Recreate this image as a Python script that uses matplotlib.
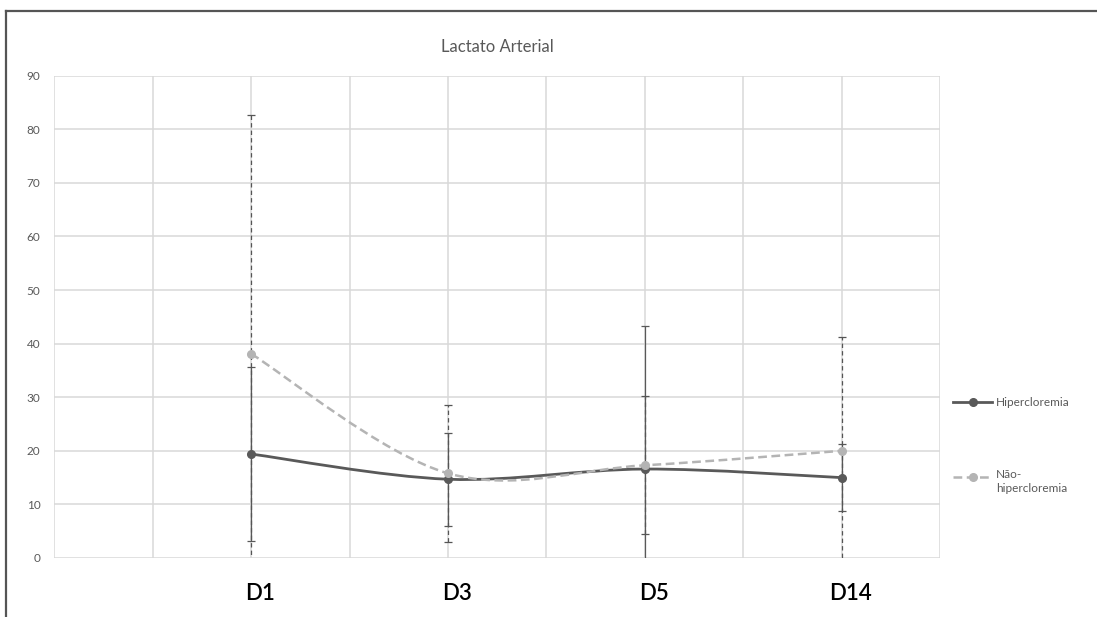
import numpy as np
import matplotlib
matplotlib.use("Agg")
import matplotlib.pyplot as plt
from matplotlib.path import Path
from matplotlib.patches import PathPatch
from matplotlib.lines import Line2D

plt.rcParams['font.family'] = ['Lato', 'DejaVu Sans']

# days of follow-up, placed on a 0..9 category grid
dias = ['D1', 'D3', 'D5', 'D14']
posicoes = [2, 4, 6, 8]

hiper_media = [19.4, 14.7, 16.6, 15.0]
hiper_dp = [16.3, 8.7, 26.6, 6.3]

nao_media = [38.1, 15.8, 17.3, 20.0]
nao_dp = [44.5, 12.8, 12.9, 21.3]

ESCURO = '#595959'
CLARO = '#b4b4b4'
GRADE = '#d9d9d9'


def curva_suave(xs, ys):
    # Bezier segments like the "smoothed line" option of a spreadsheet chart
    pts = np.column_stack([xs, ys]).astype(float)
    n = len(pts)
    verts = [pts[0]]
    codes = [Path.MOVETO]
    for i in range(n - 1):
        p_ant = pts[i - 1] if i > 0 else pts[i]
        p_prox = pts[i + 2] if i + 2 < n else pts[i + 1]
        c1 = pts[i] + (pts[i + 1] - p_ant) / 6
        c2 = pts[i + 1] - (p_prox - pts[i]) / 6
        verts += [c1, c2, pts[i + 1]]
        codes += [Path.CURVE4] * 3
    return Path(verts, codes)


fig = plt.figure(figsize=(10.97, 6.17), dpi=100)
ax = fig.add_axes([54.3 / 1097, 59 / 617, (940 - 54.3) / 1097, (558 - 75.7) / 617])

ax.set_xlim(0, 9)
ax.set_ylim(0, 90)
ax.set_xticks(range(0, 10))
ax.set_xticklabels([])
ax.set_yticks(range(0, 100, 10))
ax.grid(True, color=GRADE, linewidth=1.1)
ax.set_axisbelow(True)
for lado in ax.spines.values():
    lado.set_visible(False)
ax.tick_params(axis='both', length=0)
ax.tick_params(axis='y', labelsize=8.5, labelcolor=ESCURO, pad=10)

# error bars
eb1 = ax.errorbar(posicoes, hiper_media, yerr=hiper_dp, fmt='none', ecolor=ESCURO,
                  elinewidth=0.9, capsize=2.6, capthick=0.9, zorder=3)
eb2 = ax.errorbar(posicoes, nao_media, yerr=nao_dp, fmt='none', ecolor='#555555',
                  elinewidth=0.9, capsize=2.6, capthick=0.9, zorder=3)
for col in eb2[2]:
    col.set_linestyle((0, (3.5, 2.5)))

# smoothed lines
ax.add_patch(PathPatch(curva_suave(posicoes, hiper_media), fill=False, edgecolor=ESCURO,
                       linewidth=2.0, zorder=4, capstyle='round'))
ax.add_patch(PathPatch(curva_suave(posicoes, nao_media), fill=False, edgecolor=CLARO,
                       linewidth=1.8, linestyle=(0, (3.5, 1.8)), zorder=5))

ax.plot(posicoes, hiper_media, 'o', color=ESCURO, markersize=5.5, zorder=6, clip_on=False)
ax.plot(posicoes, nao_media, 'o', color=CLARO, markersize=5.5, zorder=7, clip_on=False)

fig.text(497 / 1097, 1 - 47 / 617, 'Lactato Arterial', fontsize=12, color=ESCURO,
         ha='center', va='center')

# day labels under the axis
for p, d in zip(posicoes, dias):
    ax.text(p + 0.09, -6.6, d, ha='center', va='center', fontsize=16, color='black',
            fontweight='semibold')

# legend drawn at the right
def item_legenda(y, cor, estilo):
    fig.add_artist(Line2D([953 / 1097, 992 / 1097], [1 - y / 617] * 2, color=cor,
                          linewidth=2.0 if estilo == '-' else 1.8, linestyle=estilo))
    fig.add_artist(Line2D([972.5 / 1097], [1 - y / 617], marker='o', color=cor,
                          markersize=5.5, linestyle='none'))

item_legenda(402, ESCURO, '-')
fig.text(996 / 1097, 1 - 402 / 617, 'Hipercloremia', fontsize=8.5, color=ESCURO, va='center')
item_legenda(477, CLARO, (0, (3.5, 1.8)))
fig.text(996 / 1097, 1 - 469 / 617, 'Não-\nhipercloremia', fontsize=8.5, color=ESCURO,
         va='top', linespacing=1.3)

# outer frame (top and left edges)
fig.add_artist(Line2D([6 / 1097, 1], [1 - 11 / 617] * 2, color='#555555', linewidth=1.6))
fig.add_artist(Line2D([6 / 1097] * 2, [0, 1 - 11 / 617], color='#555555', linewidth=1.6))

fig.savefig('out.png', dpi=100, facecolor='white')
